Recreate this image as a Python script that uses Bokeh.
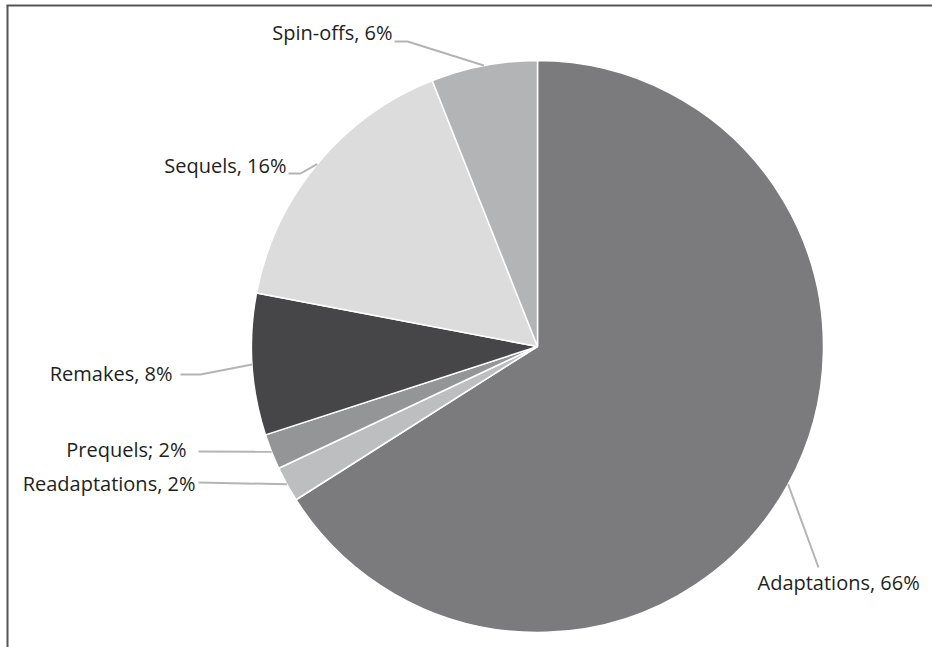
import math
from bokeh.plotting import figure
from bokeh.models import Range1d
from bokeh.core.properties import value
from bokeh.embed import file_html
from bokeh.resources import INLINE

# Share of each source type, clockwise from 12 o'clock
categories = ["Adaptations", "Readaptations", "Prequels", "Remakes", "Sequels", "Spin-offs"]
shares = [66, 2, 2, 8, 16, 6]
labels = ["Adaptations, 66%", "Readaptations, 2%", "Prequels; 2%",
          "Remakes, 8%", "Sequels, 16%", "Spin-offs, 6%"]
colors = ["#7b7b7e", "#bdbec0", "#949597", "#464648", "#dcdcdd", "#b3b4b6"]

W, H = 932, 647
CX, CY, R = 537, 346, 286          # pie centre / radius in page pixels

# label text anchor, leader start and elbow (page pixels)
label_pos = {
    "Adaptations":   dict(tx=757, ty=582, align="left",  start=(818, 567), elbow=(818, 567)),
    "Readaptations": dict(tx=195, ty=483, align="right", start=(198, 482), elbow=(198, 482)),
    "Prequels":      dict(tx=186, ty=449, align="right", start=(198, 451), elbow=(198, 451)),
    "Remakes":       dict(tx=172, ty=373, align="right", start=(180, 374), elbow=(200, 374)),
    "Sequels":       dict(tx=286, ty=165, align="right", start=(288, 173), elbow=(300, 173)),
    "Spin-offs":     dict(tx=392, ty=32,  align="right", start=(394, 41), elbow=(407, 41)),
}


def fy(y):
    return H - y


p = figure(width=W, height=H, output_backend="svg", toolbar_location=None,
           x_range=Range1d(0, W), y_range=Range1d(0, H), min_border=0)
p.axis.visible = False
p.grid.visible = False
p.outline_line_color = None
p.background_fill_color = "white"
p.border_fill_color = "white"

# frame lines along the top and left edges
p.line([6, W], [fy(5), fy(5)], line_color="#555555", line_width=2)
p.line([7, 7], [fy(5), fy(H)], line_color="#555555", line_width=2)

total = float(sum(shares))
cum = 0.0
for cat, s, col in zip(categories, shares, colors):
    f0, f1 = cum / total, (cum + s) / total
    cum += s
    start = math.pi / 2 - 2 * math.pi * f1
    end = math.pi / 2 - 2 * math.pi * f0
    p.wedge(x=CX, y=fy(CY), radius=R, start_angle=start, end_angle=end,
            direction="anticlock", fill_color=col, line_color="white", line_width=1.5)

    # leader line to the middle of the slice's arc
    mid = 2 * math.pi * (f0 + f1) / 2
    ax = CX + R * math.sin(mid)
    ay = CY - R * math.cos(mid)
    lp = label_pos[cat]
    xs = [lp["start"][0], lp["elbow"][0], ax]
    ys = [fy(lp["start"][1]), fy(lp["elbow"][1]), fy(ay)]
    p.line(xs, ys, line_color="#b4b4b6", line_width=2)

for cat, lab in zip(categories, labels):
    lp = label_pos[cat]
    p.text(x=[lp["tx"]], y=[fy(lp["ty"])], text=[lab], text_align=lp["align"],
           text_baseline="middle", text_font=value("Open Sans"),
           text_font_size="20px", text_color="#231f20")

open("out.html", "w").write(file_html(p, INLINE))
